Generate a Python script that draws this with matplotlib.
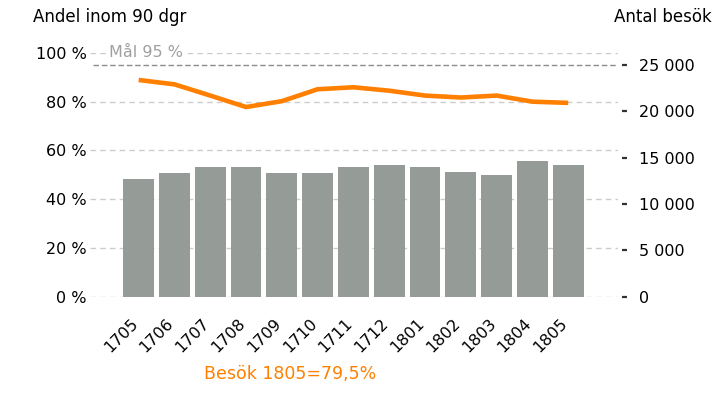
import numpy as np
import matplotlib
matplotlib.use("Agg")
import matplotlib.pyplot as plt

# --- data ---
months = ["1705", "1706", "1707", "1708", "1709", "1710", "1711",
          "1712", "1801", "1802", "1803", "1804", "1805"]
besok = [12700, 13300, 14000, 14000, 13300, 13300, 14000,
         14200, 14000, 13500, 13100, 14600, 14200]
andel = [88.9, 87.1, 82.5, 77.8, 80.2, 85.1, 85.9,
         84.5, 82.5, 81.7, 82.5, 80.0, 79.5]
pct_ticks = [0, 20, 40, 60, 80, 100]
besok_ticks = [0, 5000, 10000, 15000, 20000, 25000]
mal = 95

ORANGE = "#ff8000"
BAR = "#959b97"
GRID = "#cccccc"

plt.rcParams["font.family"] = ["DejaVu Sans"]
plt.rcParams["font.size"] = 11.5

fig = plt.figure(figsize=(7.27, 4.03), dpi=100)
ax = fig.add_axes([0.1238, 0.2638, 0.8500 - 0.1238, 0.8687 - 0.2638])
ax2 = ax.twinx()   # visits (bars)
ax3 = ax.twinx()   # share line, drawn on top

x = np.arange(len(months))

# left axis: share within 90 days
ax.set_ylim(0, 100)
ax.set_xlim(-1.36, 13.39)
ax.set_yticks(pct_ticks)
ax.set_yticklabels([f"{v} %" for v in pct_ticks])
ax.tick_params(axis="y", length=0, pad=2.5)
for v in pct_ticks:
    ax.axhline(v, color=GRID, lw=1, ls=(0, (4, 3)), zorder=0)
ax.axhline(mal, xmin=0.006, color="#8c8c8c", lw=1, ls=(0, (4, 2)), zorder=0.5)
ax.text(0.036, 100, f"Mål {mal} %", transform=ax.get_yaxis_transform(),
        color="#a0a0a0", fontsize=11.5, va="center", ha="left",
        bbox=dict(facecolor="white", edgecolor="none", pad=1))

# right axis: visits
ax2.bar(x, besok, width=0.86, color=BAR, zorder=1)
ax2.set_ylim(0, 25000 / (mal / 100))
ax2.set_yticks(besok_ticks)
ax2.set_yticklabels([f"{v:,}".replace(",", " ") for v in besok_ticks])
ax2.tick_params(axis="y", length=3.6, width=1.6, color="#333333", pad=8.5)
ax2.spines["right"].set_position(("outward", 3))

# line on top
ax3.set_ylim(0, 100)
ax3.yaxis.set_visible(False)
ax3.plot(x, andel, color=ORANGE, lw=3.3, solid_capstyle="butt", solid_joinstyle="round")

for a in (ax, ax2, ax3):
    for s in a.spines.values():
        s.set_visible(False)
ax.set_xticks(x)
ax.set_xticklabels(months, rotation=45, ha="right", va="baseline", rotation_mode="anchor")
ax.tick_params(axis="x", length=0, pad=20)

fig.text(33 / 727, 1 - 17 / 403, "Andel inom 90 dgr", fontsize=12, va="center", ha="left")
fig.text(712 / 727, 1 - 17 / 403, "Antal besök", fontsize=12, va="center", ha="right")
fig.text(290 / 727, 1 - 374 / 403, f"Besök {months[-1]}={str(andel[-1]).replace('.', ',')}%",
         color=ORANGE, fontsize=12.5, va="center", ha="center")

fig.savefig("out.png", dpi=100)
